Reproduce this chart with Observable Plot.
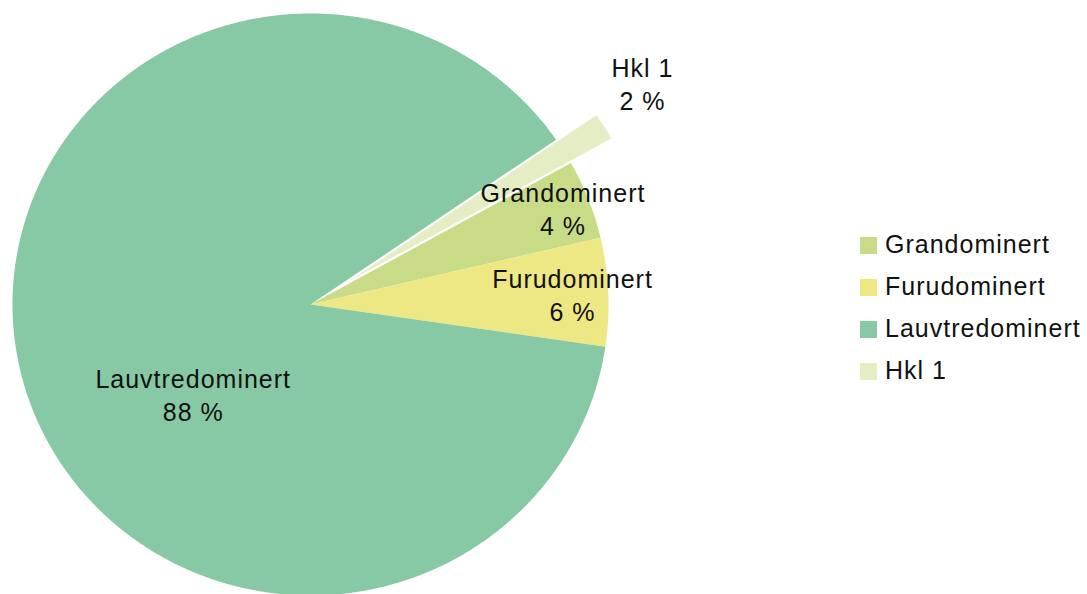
<!DOCTYPE html>
<html><head><meta charset="utf-8">
<script src="https://cdn.jsdelivr.net/npm/d3@7"></script>
<script src="https://cdn.jsdelivr.net/npm/@observablehq/plot@0.6"></script>
<style>
body{margin:0;background:#fff;}
#chart{position:relative;width:1087px;height:594px;font-family:"Liberation Sans",Arial,sans-serif;}
#legend{position:absolute;left:860px;top:223px;}
.row{display:flex;align-items:center;height:42px;font-size:25px;color:#111;letter-spacing:1px;}
.sw{width:17px;height:17px;margin-right:8px;margin-top:3px;}
</style></head><body><div id="chart"><div id="legend"></div></div>
<script>
// ---- data ----
const categories = ["Grandominert", "Furudominert", "Lauvtredominert", "Hkl 1"];
const shares = [4.4, 6.0, 88.1, 1.5];
const colors = ["#c8dc88", "#eee884", "#86c9a4", "#e4edc4"];

// ---- layout ----
const W = 1087, H = 594, CX = 310, CY = 304, RX = 298, RY = 291;
const startDeg = 60.9;
const explodePx = {"Grandominert": 0, "Furudominert": 0, "Lauvtredominert": 0, "Hkl 1": 47};
// label placement: [radius factor, angle offset in degrees (clockwise)]
const labelLayout = {"Grandominert": [0.91, -0.2], "Furudominert": [0.88, 0.2], "Lauvtredominert": [0.5, -25], "Hkl 1": [1.35, -2.6]};

const table = categories.map((c, i) => ({name: c, value: shares[i]}));
const rad = Math.PI / 180;
const arcs = d3.pie().sort(null).value(d => d.value)
  .startAngle(startDeg * rad).endAngle(startDeg * rad + 2 * Math.PI)(table);

const pts = [];
const labelData = [];
arcs.forEach(a => {
  const mid = (a.startAngle + a.endAngle) / 2;
  const off = explodePx[a.data.name] / ((RX + RY) / 2);
  const ox = off * Math.sin(mid), oy = off * Math.cos(mid);
  pts.push({name: a.data.name, x: ox, y: oy});
  const n = Math.max(8, Math.ceil((a.endAngle - a.startAngle) / (Math.PI / 720)));
  for (let k = 0; k <= n; k++) {
    const t = a.startAngle + (a.endAngle - a.startAngle) * k / n;
    pts.push({name: a.data.name, x: ox + Math.sin(t), y: oy + Math.cos(t)});
  }
  const [rf, da] = labelLayout[a.data.name];
  const la = mid + da * rad;
  labelData.push({x: rf * Math.sin(la), y: rf * Math.cos(la),
    text: a.data.name + "\n" + Math.round(a.data.value) + " %"});
});

const chart = Plot.plot({
  width: W, height: H, margin: 0,
  style: {fontFamily: '"Liberation Sans", Arial, sans-serif', background: "white", letterSpacing: "1px"},
  x: {domain: [-CX / RX, (W - CX) / RX], axis: null},
  y: {domain: [-(H - CY) / RY, CY / RY], axis: null},
  color: {domain: categories, range: colors},
  marks: [
    Plot.line(pts, {x: "x", y: "y", z: "name", fill: "name", stroke: "none", curve: "linear-closed"}),
    Plot.text(labelData, {x: "x", y: "y", text: "text", fontSize: 25, lineHeight: 1.32, fill: "#111", textAnchor: "middle"})
  ]
});
document.getElementById("chart").prepend(chart);

const legend = document.getElementById("legend");
categories.forEach((c, i) => {
  const row = document.createElement("div");
  row.className = "row";
  const sw = document.createElement("div");
  sw.className = "sw";
  sw.style.background = colors[i];
  const tx = document.createElement("span");
  tx.textContent = c;
  row.appendChild(sw); row.appendChild(tx);
  legend.appendChild(row);
});
</script>
</body></html>
